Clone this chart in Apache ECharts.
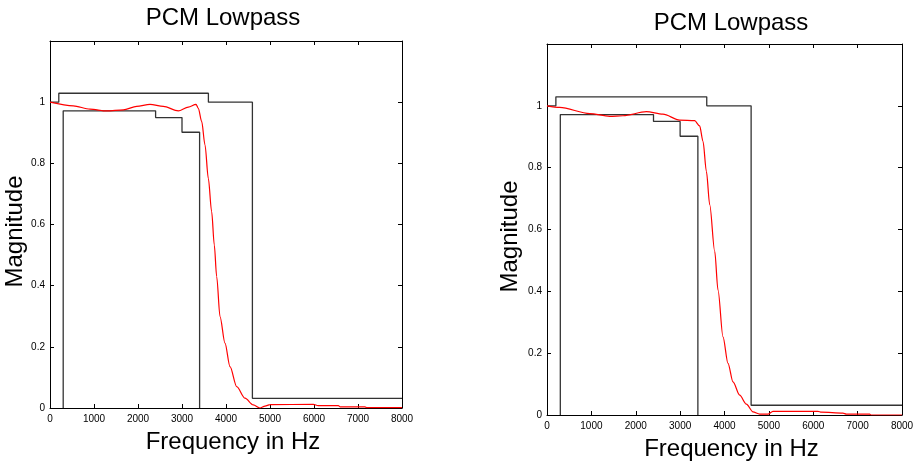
<!DOCTYPE html>
<html>
<head>
<meta charset="utf-8">
<script src="https://cdn.jsdelivr.net/npm/echarts@6/dist/echarts.min.js"></script>
<style>html,body{margin:0;padding:0;background:#fff}#c{width:921px;height:466px}</style>
</head>
<body>
<div id="c"></div>
<script>
// ---- data ----
const titles = ['PCM Lowpass', 'PCM Lowpass'];
const xName = 'Frequency in Hz';
const yName = 'Magnitude';
const xTicks = [0, 1000, 2000, 3000, 4000, 5000, 6000, 7000, 8000];
const yTicks = [0, 0.2, 0.4, 0.6, 0.8, 1];

// upper mask: [Hz, magnitude]
const upperMaskX = [0, 200, 200, 3600, 3600, 4600, 4600, 8000];
const upperMaskY = [1, 1, 1.0292, 1.0292, 1, 1, 0.0316, 0.0316];
// lower mask
const lowerMaskX = [300, 300, 2400, 2400, 3000, 3000, 3400, 3400];
const lowerMaskY = [0, 0.9716, 0.9716, 0.9495, 0.9495, 0.9016, 0.9016, 0];

// left filter response
const leftFreq = [0, 530, 909, 1288, 1667, 1970, 2273, 2576, 2916, 3144, 3318, 3371, 3447, 3523, 3598, 3674, 3734, 3788, 3864, 3977, 4091, 4243, 4432, 4620, 4773, 4886, 5000, 5984, 6098, 6553, 6591, 7159, 7197, 8000];
const leftMag  = [1.0, 0.988, 0.977, 0.9715, 0.975, 0.986, 0.993, 0.986, 0.9715, 0.984, 0.993, 0.980, 0.937, 0.860, 0.751, 0.642, 0.533, 0.43, 0.299, 0.212, 0.135, 0.07, 0.032, 0.01, 0.0, 0.006, 0.011, 0.012, 0.008, 0.008, 0.004, 0.004, 0.001, 0.001];

// right filter response
const rightFreq = [0, 286, 962, 1412, 1712, 2239, 2613, 2990, 3327, 3440, 3516, 3592, 3667, 3779, 3854, 3966, 4079, 4192, 4342, 4493, 4642, 4793, 4980, 5093, 6107, 6183, 6670, 6747, 7273, 7300, 8000];
const rightMag  = [1.0, 0.995, 0.975, 0.966, 0.968, 0.981, 0.973, 0.954, 0.952, 0.935, 0.885, 0.788, 0.68, 0.53, 0.404, 0.253, 0.167, 0.107, 0.064, 0.035, 0.01, 0.003, 0.003, 0.012, 0.012, 0.009, 0.006, 0.003, 0.003, 0.0, 0.0];

// ---- chart ----
const zip = (a, b) => a.map((v, i) => [v, b[i]]);
const FONT = 'Liberation Sans, Arial, Helvetica, sans-serif';
const grids = [
  {left: 50, top: 41, width: 352, height: 367},
  {left: 547, top: 44, width: 355, height: 371}
];
const titleCfg = [
  {left: 218, top: 1},
  {left: 726, top: 6}
];
const yNameGap = [23, 25];
const curves = [[leftFreq, leftMag], [rightFreq, rightMag]];

const option = {
  animation: false,
  backgroundColor: '#fff',
  title: titles.map((t, i) => ({
    text: t, left: titleCfg[i].left, top: titleCfg[i].top, textAlign: 'center',
    textStyle: {fontFamily: FONT, fontSize: 24, fontWeight: 'normal', color: '#000'}
  })),
  grid: grids.map(g => Object.assign({containLabel: false}, g)),
  xAxis: [], yAxis: [], series: []
};

grids.forEach((g, i) => {
  const axLine = {show: true, onZero: false, lineStyle: {color: '#000', width: 1}};
  option.xAxis.push({
    type: 'value', gridIndex: i, min: 0, max: 8000, interval: 1000, position: 'bottom',
    axisLine: axLine, splitLine: {show: false},
    axisTick: {show: true, inside: true, length: 4, lineStyle: {color: '#000'}},
    axisLabel: {color: '#000', fontFamily: FONT, fontSize: 10, margin: 6, formatter: v => String(v)},
    name: xName, nameLocation: 'middle', nameGap: 22,
    nameTextStyle: {fontFamily: FONT, fontSize: 24, color: '#000', padding: [0, 0, 0, 14]}
  });
  option.xAxis.push({
    type: 'value', gridIndex: i, min: 0, max: 8000, interval: 1000, position: 'top',
    axisLine: axLine, splitLine: {show: false},
    axisTick: {show: true, inside: true, length: 4, lineStyle: {color: '#000'}},
    axisLabel: {show: false}
  });
  option.yAxis.push({
    type: 'value', gridIndex: i, min: 0, max: 1.2, interval: 0.2, position: 'left',
    axisLine: axLine, splitLine: {show: false},
    axisTick: {show: true, inside: true, length: 4, lineStyle: {color: '#000'}},
    axisLabel: {color: '#000', fontFamily: FONT, fontSize: 10, margin: 5,
      formatter: v => (v > 1.1 ? '' : String(+v.toFixed(1)))},
    name: yName, nameLocation: 'middle', nameGap: yNameGap[i],
    nameTextStyle: {fontFamily: FONT, fontSize: 24, color: '#000', padding: [0, 14, 0, 0]}
  });
  option.yAxis.push({
    type: 'value', gridIndex: i, min: 0, max: 1.2, interval: 0.2, position: 'right',
    axisLine: axLine, splitLine: {show: false},
    axisTick: {show: true, inside: true, length: 4, lineStyle: {color: '#000'}},
    axisLabel: {show: false}
  });
  const xi = i * 2, yi = i * 2;
  option.series.push({
    type: 'line', xAxisIndex: xi, yAxisIndex: yi, data: zip(upperMaskX, upperMaskY),
    symbol: 'none', lineStyle: {color: '#333', width: 1.3}, silent: true
  });
  option.series.push({
    type: 'line', xAxisIndex: xi, yAxisIndex: yi, data: zip(lowerMaskX, lowerMaskY),
    symbol: 'none', lineStyle: {color: '#333', width: 1.3}, silent: true
  });
  option.series.push({
    type: 'line', xAxisIndex: xi, yAxisIndex: yi, data: zip(curves[i][0], curves[i][1]),
    symbol: 'none', smooth: 0.3, smoothMonotone: 'x', lineStyle: {color: '#ff0000', width: 1.2}, silent: true
  });
});

const chart = echarts.init(document.getElementById('c'), null, {renderer: 'canvas'});
chart.setOption(option);
</script>
</body>
</html>
